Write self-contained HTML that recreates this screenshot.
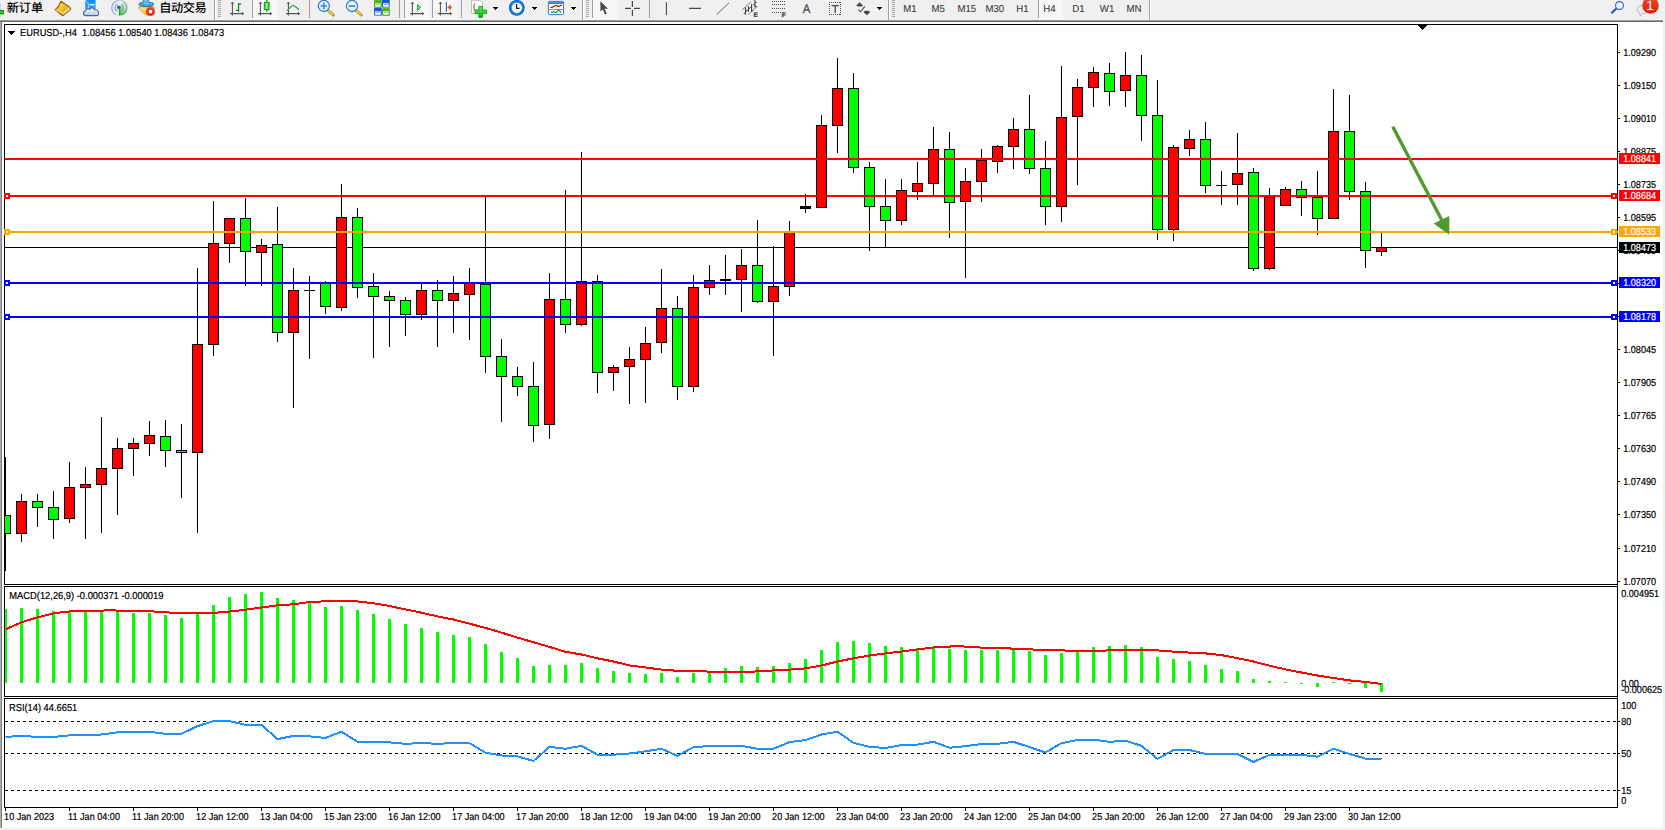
<!DOCTYPE html>
<html lang="zh-CN">
<head>
<meta charset="utf-8">
<title>EURUSD-,H4</title>
<style>
html,body{margin:0;padding:0;background:#fff;}
body{width:1665px;height:830px;position:relative;overflow:hidden;font-family:"Liberation Sans","Noto Sans CJK SC",sans-serif;}
#tb{position:absolute;left:0;top:0;width:1665px;height:22px;background:#f0f0f0;}
#tb .sep{position:absolute;left:0;top:20px;width:1663px;height:1px;background:#a0a0a0;}
#tb .sep2{position:absolute;left:0;top:21px;width:1663px;height:1px;background:#696969;}
</style>
</head>
<body>
<div id="tb"><div class="sep"></div><div class="sep2"></div>
<svg id="tbsvg" width="1665" height="22" viewBox="0 0 1665 22" style="position:absolute;left:0;top:0;text-rendering:geometricPrecision">
<defs>
<linearGradient id="gGold" x1="0" y1="0" x2="1" y2="1"><stop offset="0" stop-color="#fff0a0"/><stop offset="0.45" stop-color="#f2c520"/><stop offset="1" stop-color="#c88a14"/></linearGradient>
<linearGradient id="gCloud" x1="0" y1="0" x2="0" y2="1"><stop offset="0" stop-color="#ffffff"/><stop offset="1" stop-color="#b8c6e0"/></linearGradient>
<linearGradient id="gBlueBox" x1="0" y1="0" x2="0" y2="1"><stop offset="0" stop-color="#1486f0"/><stop offset="1" stop-color="#30a8ff"/></linearGradient>
<linearGradient id="gGreenC" x1="0" y1="0" x2="1" y2="0"><stop offset="0" stop-color="#18c018"/><stop offset="0.5" stop-color="#90ff90"/><stop offset="1" stop-color="#18c018"/></linearGradient>
<radialGradient id="gLens" cx="0.5" cy="0.4" r="0.6"><stop offset="0" stop-color="#ffffff"/><stop offset="1" stop-color="#bfe4f8"/></radialGradient>
<linearGradient id="gHandle" x1="0" y1="0" x2="1" y2="1"><stop offset="0" stop-color="#f8e060"/><stop offset="1" stop-color="#c89010"/></linearGradient>
<linearGradient id="gGrn" x1="0" y1="0" x2="0" y2="1"><stop offset="0" stop-color="#5ab82a"/><stop offset="1" stop-color="#2e9a10"/></linearGradient>
<linearGradient id="gBlu" x1="0" y1="0" x2="0" y2="1"><stop offset="0" stop-color="#1a4ad0"/><stop offset="1" stop-color="#3a7af0"/></linearGradient>
<radialGradient id="gClock" cx="0.5" cy="0.5" r="0.5"><stop offset="0.6" stop-color="#f4f4f4"/><stop offset="0.68" stop-color="#2a90e8"/><stop offset="1" stop-color="#0a58c0"/></radialGradient>
<linearGradient id="gRed" x1="0" y1="0" x2="0" y2="1"><stop offset="0" stop-color="#e8502a"/><stop offset="1" stop-color="#dc1c06"/></linearGradient>
<linearGradient id="gPlus" x1="0" y1="0" x2="0" y2="1"><stop offset="0" stop-color="#60f060"/><stop offset="1" stop-color="#08b008"/></linearGradient>
<linearGradient id="gHat" x1="0" y1="0" x2="0" y2="1"><stop offset="0" stop-color="#7cc8f0"/><stop offset="1" stop-color="#2a8cd0"/></linearGradient>
<linearGradient id="gRadar" x1="0" y1="1" x2="0.6" y2="0"><stop offset="0" stop-color="#30a830" stop-opacity="0.95"/><stop offset="0.6" stop-color="#88c888" stop-opacity="0.7"/><stop offset="1" stop-color="#d0e8d8" stop-opacity="0.5"/></linearGradient>
<linearGradient id="gYel" x1="0" y1="0" x2="1" y2="1"><stop offset="0" stop-color="#fff090"/><stop offset="1" stop-color="#f0b010"/></linearGradient>
<pattern id="chk" width="2" height="2" patternUnits="userSpaceOnUse"><rect width="2" height="2" fill="#f0f0f0"/><rect width="1" height="1" fill="#fff"/><rect x="1" y="1" width="1" height="1" fill="#fff"/></pattern>
<g id="axes" fill="none" stroke="#545454" stroke-width="1.1"><path d="M2.4 2.2V15.6M0 13.6H13.4"/><path d="M1 3.8L2.4 2.2L3.8 3.8M12 12.2L13.6 13.6L12 15" stroke-width="1"/></g>
<g id="grip" shape-rendering="crispEdges" fill="#a8a8a8"><rect x="0" y="0" width="3" height="1"/><rect x="0" y="2" width="3" height="1"/><rect x="0" y="4" width="3" height="1"/><rect x="0" y="6" width="3" height="1"/><rect x="0" y="8" width="3" height="1"/><rect x="0" y="10" width="3" height="1"/><rect x="0" y="12" width="3" height="1"/><rect x="0" y="14" width="3" height="1"/><rect x="0" y="16" width="3" height="1"/></g>
<g id="dd" shape-rendering="crispEdges" fill="#000"><rect x="0" y="0" width="5" height="1"/><rect x="1" y="1" width="3" height="1"/><rect x="2" y="2" width="1" height="1"/></g>
</defs>
<!-- row under toolbar -->
<g shape-rendering="crispEdges">
<rect x="0" y="19" width="1665" height="1" fill="#f2f2f2"/>
<rect x="0" y="20" width="1663" height="1" fill="#9c9c9c"/>
<rect x="0" y="21" width="1663" height="1" fill="#6a6a6a"/>
<!-- selected button backgrounds -->
<rect x="253" y="0" width="24" height="18" fill="url(#chk)"/><rect x="252" y="18" width="26" height="1" fill="#fff"/>
<rect x="405" y="0" width="24" height="18" fill="url(#chk)"/><rect x="404" y="18" width="26" height="1" fill="#fff"/>
<rect x="433" y="0" width="24" height="18" fill="url(#chk)"/><rect x="432" y="18" width="26" height="1" fill="#fff"/>
<rect x="593" y="0" width="24" height="18" fill="url(#chk)"/><rect x="592" y="18" width="26" height="1" fill="#fff"/>
<rect x="1039" y="0" width="24" height="18" fill="url(#chk)"/><rect x="1038" y="18" width="26" height="1" fill="#fff"/>
<!-- toolbar separators (full) -->
<rect x="214" y="0" width="1" height="20" fill="#a0a0a0"/><rect x="215" y="0" width="1" height="20" fill="#fff"/>
<rect x="582" y="0" width="1" height="20" fill="#a0a0a0"/><rect x="583" y="0" width="1" height="20" fill="#fff"/>
<rect x="888" y="0" width="1" height="20" fill="#a0a0a0"/><rect x="889" y="0" width="1" height="20" fill="#fff"/>
<rect x="1149" y="0" width="1" height="20" fill="#a0a0a0"/><rect x="1150" y="0" width="1" height="20" fill="#fff"/>
<!-- button separators -->
<rect x="252" y="0" width="1" height="18" fill="#a0a0a0"/>
<rect x="309" y="0" width="1" height="18" fill="#a0a0a0"/>
<rect x="399" y="0" width="1" height="18" fill="#a0a0a0"/>
<rect x="404" y="0" width="1" height="18" fill="#a0a0a0"/>
<rect x="432" y="0" width="1" height="18" fill="#a0a0a0"/>
<rect x="461" y="0" width="1" height="18" fill="#a0a0a0"/>
<rect x="592" y="0" width="1" height="18" fill="#a0a0a0"/>
<rect x="649" y="0" width="1" height="18" fill="#a0a0a0"/>
<rect x="1038" y="0" width="1" height="18" fill="#a0a0a0"/>
</g>
<use href="#grip" x="218" y="0"/><use href="#grip" x="586" y="0"/><use href="#grip" x="892" y="0"/>
<!-- new order partial plus -->
<rect x="0" y="3" width="1" height="14" fill="#c8c8c8" opacity="0.7"/>
<rect x="-1" y="10.3" width="4.6" height="3.6" fill="#20d020" stroke="#0a800a" stroke-width="0.8"/>
<g font-family="Liberation Sans, Noto Sans CJK SC, sans-serif" font-size="12.2px" font-weight="500" fill="#000">
<text x="6.7" y="11.7">新订单</text>
<text x="159.2" y="11.7" textLength="47.4" lengthAdjust="spacing">自动交易</text>
</g>
<!-- book -->
<path d="M60.8 1.3L69.8 7.2L70.8 9.4L62.8 15.8L55.2 9.8C57.6 8 59.6 5 60.8 1.3Z" fill="url(#gGold)" stroke="#9a5c08" stroke-width="1.1" stroke-linejoin="round"/>
<path d="M69.6 7.8L70.4 9.4L63 15.2L62.6 13.4Z" fill="#ecd9a0" stroke="#a87420" stroke-width="0.5"/>
<path d="M55.8 10L62.6 13.2L69.4 7.6" fill="none" stroke="#fff4c0" stroke-width="0.9" opacity="0.85"/>
<!-- box + cloud -->
<path d="M85.2 1.2L88 -1H95.6V9H85.2Z" fill="url(#gBlueBox)"/>
<path d="M85.4 1.4L88.6 3.6V9" fill="none" stroke="#d8f0ff" stroke-width="0.7"/>
<rect x="89.6" y="4" width="5" height="1.4" fill="#e0f4ff"/>
<path d="M86 15.6C83 15.6 82.6 11.4 85.6 10.8C85.8 8.8 88.2 8.2 89.4 9.4C90.6 7.2 94 7.4 94.6 10C96.6 9.2 98.8 10.8 98.4 12.8C99 15 97.6 15.6 96.4 15.6Z" fill="url(#gCloud)" stroke="#4664a4" stroke-width="1.1"/>
<!-- radar -->
<path d="M119.4 7.8V15.6A7.8 7.8 0 0 0 123.4 1.2Z" fill="url(#gRadar)"/>
<g fill="none" stroke-width="1.1">
<path d="M116.6 0.9A7.5 7.5 0 0 0 116.2 14.7" stroke="#6a8ae0" opacity="0.8"/>
<path d="M117.6 4.1A3.9 3.9 0 0 0 117.2 11.3" stroke="#5a80dc" opacity="0.9"/>
<path d="M116.6 0.9A7.5 7.5 0 0 1 123.6 1.6" stroke="#a8c0d8" opacity="0.8"/>
<path d="M123.6 1.6A7.5 7.5 0 0 1 122.6 14.6" stroke="#4a8a6a" opacity="0.7"/>
<path d="M121 4.2A3.9 3.9 0 0 1 121.6 11" stroke="#6aa08a" opacity="0.7"/>
</g>
<circle cx="118.8" cy="7.4" r="1.8" fill="#2a5ad0"/>
<rect x="118.9" y="8" width="1.3" height="7.7" fill="#18a818"/>
<!-- auto trading -->
<path d="M138.8 7L146 6.4L153.8 6.6L153.6 10L146.4 15.6L139.2 8.6Z" fill="url(#gYel)" stroke="#c8960c" stroke-width="0.8" stroke-linejoin="round"/>
<path d="M138.6 4.2C139.6 2.6 141.6 2.4 142.8 2.6C143 1.2 143.6 0 144 -0.6H148C148.6 0.4 149 1.4 149.2 2.6C150.8 2.2 153 2.4 153.8 3.8C153.2 5.8 149.6 6.8 146.2 6.8C142.8 6.8 139.4 6 138.6 4.2Z" fill="url(#gHat)" stroke="#1e78a8" stroke-width="0.9"/>
<path d="M143.6 3.4C145 4.4 147.6 4.4 149 3.4" fill="none" stroke="#c0e8fa" stroke-width="0.7" opacity="0.8"/>
<circle cx="150.5" cy="11.6" r="4.1" fill="url(#gRed)" stroke="#c01808" stroke-width="0.5"/>
<rect x="148.9" y="10" width="3.2" height="3.2" fill="#fff"/>
<!-- chart type icons -->
<use href="#axes" x="230" y="0"/>
<path d="M236 10.4H238.6V4.2H241.2M238.6 3V12" fill="none" stroke="#0a8a0a" stroke-width="1.2"/>
<use href="#axes" x="258" y="0"/>
<rect x="266.1" y="0" width="1.2" height="12" fill="#0a9a0a"/>
<rect x="264.3" y="2.4" width="4.8" height="7.2" fill="url(#gGreenC)" stroke="#0a9a0a" stroke-width="0.9"/>
<use href="#axes" x="286" y="0"/>
<path d="M287 10.6C290 8.4 291.4 5.2 293 5.2C294.6 5.2 296.4 8.2 299 9.4" fill="none" stroke="#2a9a2a" stroke-width="1.1"/>
<!-- zoom in / out -->
<g>
<path d="M327.6 10L333.2 15" stroke="#a87a10" stroke-width="3" stroke-linecap="round"/>
<path d="M327.8 10.2L333 14.8" stroke="#f0d040" stroke-width="1.6" stroke-linecap="round"/>
<circle cx="323.8" cy="6" r="5.6" fill="url(#gLens)" stroke="#2a78c8" stroke-width="1.1"/>
<path d="M320.6 6H327M323.8 2.8V9.2" stroke="#3a88b8" stroke-width="1.6"/>
<path d="M355.6 10L361.2 15" stroke="#a87a10" stroke-width="3" stroke-linecap="round"/>
<path d="M355.8 10.2L361 14.8" stroke="#f0d040" stroke-width="1.6" stroke-linecap="round"/>
<circle cx="352" cy="6" r="5.6" fill="url(#gLens)" stroke="#2a78c8" stroke-width="1.1"/>
<path d="M348.8 6H355.2" stroke="#3a88b8" stroke-width="1.6"/>
</g>
<!-- tile windows -->
<g>
<rect x="374" y="0" width="7.8" height="7.8" rx="0.8" fill="url(#gGrn)"/><rect x="382" y="0" width="7.8" height="7.8" rx="0.8" fill="url(#gBlu)"/>
<rect x="374" y="8" width="7.8" height="7.8" rx="0.8" fill="url(#gBlu)"/><rect x="382" y="8" width="7.8" height="7.8" rx="0.8" fill="url(#gGrn)"/>
<rect x="375.2" y="3.4" width="5.4" height="3.4" fill="#fff"/><rect x="383.2" y="3.4" width="5.4" height="3.4" fill="#fff"/>
<rect x="375.2" y="11.4" width="5.4" height="3.4" fill="#fff"/><rect x="383.2" y="11.4" width="5.4" height="3.4" fill="#fff"/>
<rect x="376" y="4.2" width="3.8" height="0.8" fill="#8ad060"/><rect x="384" y="4.2" width="3.8" height="0.8" fill="#7aa0f0"/>
<rect x="376" y="12.2" width="3.8" height="0.8" fill="#7aa0f0"/><rect x="384" y="12.2" width="3.8" height="0.8" fill="#8ad060"/>
</g>
<!-- auto scroll / chart shift -->
<use href="#axes" x="410" y="0"/>
<path d="M417.6 4.4L420.6 7.4L417.6 10.4Z" fill="#70e070" stroke="#18a018" stroke-width="0.9"/>
<use href="#axes" x="438" y="0"/>
<rect x="445.8" y="2" width="1.1" height="10" fill="#1a6aa8"/>
<path d="M447.6 7.4H452M447.8 7.4L450.4 5.2V9.6Z" fill="#e05010" stroke="#e05010" stroke-width="0.8"/>
<!-- indicators -->
<path d="M471.6 0.4H480L482.4 2.8V13.4H471.6Z" fill="#fff" stroke="#b0b0b0" stroke-width="0.8"/>
<path d="M474.8 3.4C473.6 4.4 473.6 9 474.8 10.4" fill="none" stroke="#404030" stroke-width="0.9"/>
<path d="M478.8 6.4H482.4V10H486.6V13.6H482.4V17.4H478.8V13.6H475V10H478.8Z" fill="url(#gPlus)" stroke="#0a900a" stroke-width="0.8"/>
<use href="#dd" x="493" y="7"/>
<!-- clock -->
<circle cx="516.8" cy="7.8" r="7.9" fill="url(#gClock)"/>
<path d="M516.6 4V8.4H519.6" fill="none" stroke="#202020" stroke-width="1.2"/>
<use href="#dd" x="532" y="7"/>
<!-- templates -->
<rect x="548.4" y="1.4" width="15.2" height="13.2" rx="0.8" fill="#fff" stroke="#3a78c8" stroke-width="1"/>
<rect x="548.9" y="1.8" width="14.2" height="2.2" fill="#4a88d8"/>
<rect x="549" y="9" width="14" height="0.9" fill="#5a90d8"/>
<path d="M550.4 7.4H552.4L554 6H555.4L556.4 5.2L557.6 6.4H559.2L560.6 5.4H562" fill="none" stroke="#a01808" stroke-width="1.1"/>
<path d="M551 12.4H552.6L553.6 11.4L555 12.4H556.4L558.4 10.2L559.4 10.6L561.2 12.6" fill="none" stroke="#10902a" stroke-width="1.1"/>
<use href="#dd" x="571" y="7"/>
<!-- cursor -->
<path d="M600.4 1.2V11.4L602.8 9.4L605 14.6L606.8 13.8L604.6 8.8H608Z" fill="#484848"/>
<!-- crosshair -->
<path d="M625 8.4H631M634 8.4H640M632.4 1V7M632.4 10V16" fill="none" stroke="#484848" stroke-width="1.2"/>
<!-- vline hline trend -->
<path d="M666.4 2.2V15M689 8.4H701" fill="none" stroke="#484848" stroke-width="1.1"/><path d="M716.6 14.6L729 2.8" fill="none" stroke="#585858" stroke-width="0.9"/>
<!-- channel -->
<g fill="none" stroke="#686868" stroke-width="0.8">
<path d="M742.4 9.6L751 1.8M747.8 14.8L757.4 6.2"/>
</g>
<g fill="none" stroke="#3c3c3c" stroke-width="1.1">
<path d="M745.5 7.4V14.6M748.4 6.2V11.8M751.6 4.2V11.8M754.9 0V7.2"/>
<path d="M743.8 13.4H745.5M745.5 11.2H747M746.8 10.4H748.4M748.4 8.2H750M750 7.4H751.6M751.6 10.8H753.2M753.2 4.6H754.9M754.9 2.4H756.6M754.9 6.6H756.8" stroke-width="0.9"/>
</g>
<g font-family="Liberation Sans, sans-serif" font-weight="bold" fill="#404040">
<text x="753.6" y="17" font-size="6.6px" stroke="#404040" stroke-width="0.2">E</text>
<text x="781.8" y="17" font-size="6.6px" stroke="#404040" stroke-width="0.3">F</text>
<text transform="translate(802.8 13) scale(0.92 1)" font-size="12.4px" fill="#505050" font-weight="normal" stroke="#505050" stroke-width="0.35">A</text>
</g>
<g fill="none" stroke="#505050" stroke-width="1" stroke-dasharray="1 1" shape-rendering="crispEdges">
<path d="M772 1.5H786M772 4.5H786M772 8.5H786M772 12.5H781"/>
<path d="M829 2.5H841M829 14.5H841M829.5 2V15M840.5 2V15"/>
</g>
<path d="M831.6 5.6H838.8M835.2 5.6V13" fill="none" stroke="#484848" stroke-width="1.3"/>
<!-- arrows -->
<path d="M856.2 5.6L859.6 2.2L863 5.6L861.2 6.6H858Z" fill="#484848"/>
<path d="M863.4 12L866.8 15.2L870.2 12L868.4 10.8H865.2Z" fill="#484848"/>
<path d="M858.2 9.6L860.6 11.8L864.8 6.4" fill="none" stroke="#484848" stroke-width="1.1"/>
<use href="#dd" x="877" y="7"/>
<!-- periods -->
<g font-family="Liberation Sans, sans-serif" font-size="10.1px" fill="#3c3c3c" stroke="#3c3c3c" stroke-width="0.1">
<text transform="translate(903.2 12) scale(0.955 1)">M1</text><text transform="translate(931.4 12) scale(0.955 1)">M5</text><text transform="translate(957.4 12) scale(0.955 1)">M15</text><text transform="translate(985.4 12) scale(0.955 1)">M30</text><text transform="translate(1016.2 12) scale(0.955 1)">H1</text><text transform="translate(1043.2 12) scale(0.955 1)">H4</text><text transform="translate(1072.2 12) scale(0.955 1)">D1</text><text transform="translate(1099.8 12) scale(0.955 1)">W1</text><text transform="translate(1126.4 12) scale(0.955 1)">MN</text>
</g>
<!-- search -->
<path d="M1612 12.6L1616.6 8.2" stroke="#2a58c8" stroke-width="2.2" stroke-linecap="round"/>
<circle cx="1619.5" cy="5.5" r="3.9" fill="#f4f6ff" stroke="#2a58d0" stroke-width="1.1"/>
<!-- chat + badge -->
<path d="M1637 9.4C1637 6.4 1640 5.2 1643 5.2C1646.4 5.2 1648.6 7 1648.6 9.6C1648.6 12.4 1646 13.6 1643 13.6L1640 16.4L1640.2 13.4C1638.2 12.8 1637 11.4 1637 9.4Z" fill="#e8e8ee" stroke="#b0b0b0" stroke-width="0.8"/>
<circle cx="1650.5" cy="5.4" r="8.3" fill="url(#gRed)"/>
<text x="1646.2" y="10" font-family="Liberation Sans, sans-serif" font-size="13.5px" fill="#fff">1</text>
</svg>

</div>
<svg id="chart" width="1665" height="830" viewBox="0 0 1665 830" style="position:absolute;left:0;top:0;text-rendering:geometricPrecision">
<defs><clipPath id="cm"><rect x="4" y="25" width="1614" height="559"/></clipPath><clipPath id="cm5"><rect x="5" y="25" width="1612" height="559"/></clipPath><clipPath id="c2"><rect x="5" y="587" width="1612" height="109"/></clipPath><clipPath id="c3"><rect x="5" y="699" width="1612" height="108"/></clipPath></defs>
<g shape-rendering="crispEdges">
<rect x="0" y="22" width="1" height="808" fill="#ababab"/>
<rect x="1" y="22" width="1" height="808" fill="#808080"/>
<rect x="1663" y="22" width="2" height="808" fill="#f0f0f0"/>
<rect x="0" y="828" width="1665" height="2" fill="#f0f0f0"/>
<rect x="4" y="24" width="1614" height="1" fill="#000"/>
<rect x="4" y="24" width="1" height="561" fill="#000"/>
<rect x="4" y="584" width="1614" height="1" fill="#000"/>
<rect x="1617" y="24" width="1" height="784" fill="#000"/>
<rect x="4" y="586" width="1614" height="1" fill="#000"/>
<rect x="4" y="586" width="1" height="111" fill="#000"/>
<rect x="4" y="696" width="1614" height="1" fill="#000"/>
<rect x="4" y="698" width="1614" height="1" fill="#000"/>
<rect x="4" y="698" width="1" height="110" fill="#000"/>
<rect x="4" y="807" width="1614" height="1" fill="#000"/>
<rect x="1418" y="25" width="9" height="1" fill="#000"/>
<rect x="1419" y="26" width="7" height="1" fill="#000"/>
<rect x="1420" y="27" width="5" height="1" fill="#000"/>
<rect x="1421" y="28" width="3" height="1" fill="#000"/>
<rect x="1422" y="29" width="1" height="1" fill="#000"/>
<rect x="8" y="31" width="7" height="1" fill="#000"/>
<rect x="9" y="32" width="5" height="1" fill="#000"/>
<rect x="10" y="33" width="3" height="1" fill="#000"/>
<rect x="11" y="34" width="1" height="1" fill="#000"/>
<g clip-path="url(#cm5)">
<rect x="5" y="247" width="1613" height="1" fill="#000"/>
<rect x="5" y="457" width="1" height="114" fill="#000"/>
<rect x="0" y="515" width="11" height="19" fill="#000"/>
<rect x="1" y="516" width="9" height="17" fill="#0f0"/>
<rect x="21" y="494" width="1" height="48" fill="#000"/>
<rect x="16" y="501" width="11" height="33" fill="#000"/>
<rect x="17" y="502" width="9" height="31" fill="#f00"/>
<rect x="37" y="494" width="1" height="33" fill="#000"/>
<rect x="32" y="501" width="11" height="7" fill="#000"/>
<rect x="33" y="502" width="9" height="5" fill="#0f0"/>
<rect x="53" y="491" width="1" height="48" fill="#000"/>
<rect x="48" y="507" width="11" height="13" fill="#000"/>
<rect x="49" y="508" width="9" height="11" fill="#0f0"/>
<rect x="69" y="462" width="1" height="61" fill="#000"/>
<rect x="64" y="487" width="11" height="32" fill="#000"/>
<rect x="65" y="488" width="9" height="30" fill="#f00"/>
<rect x="85" y="467" width="1" height="72" fill="#000"/>
<rect x="80" y="484" width="11" height="4" fill="#000"/>
<rect x="81" y="485" width="9" height="2" fill="#f00"/>
<rect x="101" y="417" width="1" height="116" fill="#000"/>
<rect x="96" y="468" width="11" height="17" fill="#000"/>
<rect x="97" y="469" width="9" height="15" fill="#f00"/>
<rect x="117" y="438" width="1" height="77" fill="#000"/>
<rect x="112" y="448" width="11" height="21" fill="#000"/>
<rect x="113" y="449" width="9" height="19" fill="#f00"/>
<rect x="133" y="438" width="1" height="38" fill="#000"/>
<rect x="128" y="443" width="11" height="6" fill="#000"/>
<rect x="129" y="444" width="9" height="4" fill="#f00"/>
<rect x="149" y="421" width="1" height="35" fill="#000"/>
<rect x="144" y="435" width="11" height="9" fill="#000"/>
<rect x="145" y="436" width="9" height="7" fill="#f00"/>
<rect x="165" y="420" width="1" height="47" fill="#000"/>
<rect x="160" y="436" width="11" height="15" fill="#000"/>
<rect x="161" y="437" width="9" height="13" fill="#0f0"/>
<rect x="181" y="424" width="1" height="74" fill="#000"/>
<rect x="176" y="450" width="11" height="3" fill="#000"/>
<rect x="177" y="451" width="9" height="1" fill="#0f0"/>
<rect x="197" y="268" width="1" height="265" fill="#000"/>
<rect x="192" y="344" width="11" height="109" fill="#000"/>
<rect x="193" y="345" width="9" height="107" fill="#f00"/>
<rect x="213" y="201" width="1" height="155" fill="#000"/>
<rect x="208" y="243" width="11" height="102" fill="#000"/>
<rect x="209" y="244" width="9" height="100" fill="#f00"/>
<rect x="229" y="218" width="1" height="45" fill="#000"/>
<rect x="224" y="218" width="11" height="26" fill="#000"/>
<rect x="225" y="219" width="9" height="24" fill="#f00"/>
<rect x="245" y="198" width="1" height="88" fill="#000"/>
<rect x="240" y="218" width="11" height="34" fill="#000"/>
<rect x="241" y="219" width="9" height="32" fill="#0f0"/>
<rect x="261" y="239" width="1" height="47" fill="#000"/>
<rect x="256" y="245" width="11" height="8" fill="#000"/>
<rect x="257" y="246" width="9" height="6" fill="#f00"/>
<rect x="277" y="207" width="1" height="135" fill="#000"/>
<rect x="272" y="244" width="11" height="89" fill="#000"/>
<rect x="273" y="245" width="9" height="87" fill="#0f0"/>
<rect x="293" y="268" width="1" height="140" fill="#000"/>
<rect x="288" y="290" width="11" height="43" fill="#000"/>
<rect x="289" y="291" width="9" height="41" fill="#f00"/>
<rect x="309" y="276" width="1" height="83" fill="#000"/>
<rect x="304" y="290" width="11" height="1" fill="#000"/>
<rect x="325" y="281" width="1" height="33" fill="#000"/>
<rect x="320" y="283" width="11" height="24" fill="#000"/>
<rect x="321" y="284" width="9" height="22" fill="#0f0"/>
<rect x="341" y="184" width="1" height="127" fill="#000"/>
<rect x="336" y="217" width="11" height="91" fill="#000"/>
<rect x="337" y="218" width="9" height="89" fill="#f00"/>
<rect x="357" y="208" width="1" height="90" fill="#000"/>
<rect x="352" y="217" width="11" height="71" fill="#000"/>
<rect x="353" y="218" width="9" height="69" fill="#0f0"/>
<rect x="373" y="273" width="1" height="85" fill="#000"/>
<rect x="368" y="286" width="11" height="11" fill="#000"/>
<rect x="369" y="287" width="9" height="9" fill="#0f0"/>
<rect x="389" y="291" width="1" height="56" fill="#000"/>
<rect x="384" y="296" width="11" height="5" fill="#000"/>
<rect x="385" y="297" width="9" height="3" fill="#0f0"/>
<rect x="405" y="297" width="1" height="39" fill="#000"/>
<rect x="400" y="300" width="11" height="15" fill="#000"/>
<rect x="401" y="301" width="9" height="13" fill="#0f0"/>
<rect x="421" y="284" width="1" height="36" fill="#000"/>
<rect x="416" y="290" width="11" height="25" fill="#000"/>
<rect x="417" y="291" width="9" height="23" fill="#f00"/>
<rect x="437" y="280" width="1" height="67" fill="#000"/>
<rect x="432" y="290" width="11" height="11" fill="#000"/>
<rect x="433" y="291" width="9" height="9" fill="#0f0"/>
<rect x="453" y="276" width="1" height="57" fill="#000"/>
<rect x="448" y="293" width="11" height="8" fill="#000"/>
<rect x="449" y="294" width="9" height="6" fill="#f00"/>
<rect x="469" y="268" width="1" height="72" fill="#000"/>
<rect x="464" y="283" width="11" height="12" fill="#000"/>
<rect x="465" y="284" width="9" height="10" fill="#f00"/>
<rect x="485" y="196" width="1" height="177" fill="#000"/>
<rect x="480" y="284" width="11" height="73" fill="#000"/>
<rect x="481" y="285" width="9" height="71" fill="#0f0"/>
<rect x="501" y="339" width="1" height="83" fill="#000"/>
<rect x="496" y="356" width="11" height="21" fill="#000"/>
<rect x="497" y="357" width="9" height="19" fill="#0f0"/>
<rect x="517" y="367" width="1" height="29" fill="#000"/>
<rect x="512" y="376" width="11" height="11" fill="#000"/>
<rect x="513" y="377" width="9" height="9" fill="#0f0"/>
<rect x="533" y="362" width="1" height="80" fill="#000"/>
<rect x="528" y="386" width="11" height="40" fill="#000"/>
<rect x="529" y="387" width="9" height="38" fill="#0f0"/>
<rect x="549" y="273" width="1" height="166" fill="#000"/>
<rect x="544" y="299" width="11" height="126" fill="#000"/>
<rect x="545" y="300" width="9" height="124" fill="#f00"/>
<rect x="565" y="190" width="1" height="143" fill="#000"/>
<rect x="560" y="299" width="11" height="26" fill="#000"/>
<rect x="561" y="300" width="9" height="24" fill="#0f0"/>
<rect x="581" y="152" width="1" height="174" fill="#000"/>
<rect x="576" y="281" width="11" height="44" fill="#000"/>
<rect x="577" y="282" width="9" height="42" fill="#f00"/>
<rect x="597" y="275" width="1" height="118" fill="#000"/>
<rect x="592" y="281" width="11" height="92" fill="#000"/>
<rect x="593" y="282" width="9" height="90" fill="#0f0"/>
<rect x="613" y="365" width="1" height="26" fill="#000"/>
<rect x="608" y="367" width="11" height="6" fill="#000"/>
<rect x="609" y="368" width="9" height="4" fill="#f00"/>
<rect x="629" y="347" width="1" height="57" fill="#000"/>
<rect x="624" y="359" width="11" height="8" fill="#000"/>
<rect x="625" y="360" width="9" height="6" fill="#f00"/>
<rect x="645" y="327" width="1" height="76" fill="#000"/>
<rect x="640" y="343" width="11" height="17" fill="#000"/>
<rect x="641" y="344" width="9" height="15" fill="#f00"/>
<rect x="661" y="269" width="1" height="84" fill="#000"/>
<rect x="656" y="308" width="11" height="35" fill="#000"/>
<rect x="657" y="309" width="9" height="33" fill="#f00"/>
<rect x="677" y="296" width="1" height="104" fill="#000"/>
<rect x="672" y="308" width="11" height="79" fill="#000"/>
<rect x="673" y="309" width="9" height="77" fill="#0f0"/>
<rect x="693" y="275" width="1" height="117" fill="#000"/>
<rect x="688" y="287" width="11" height="100" fill="#000"/>
<rect x="689" y="288" width="9" height="98" fill="#f00"/>
<rect x="709" y="265" width="1" height="30" fill="#000"/>
<rect x="704" y="280" width="11" height="8" fill="#000"/>
<rect x="705" y="281" width="9" height="6" fill="#f00"/>
<rect x="725" y="255" width="1" height="40" fill="#000"/>
<rect x="720" y="279" width="11" height="2" fill="#000"/>
<rect x="741" y="249" width="1" height="63" fill="#000"/>
<rect x="736" y="265" width="11" height="15" fill="#000"/>
<rect x="737" y="266" width="9" height="13" fill="#f00"/>
<rect x="757" y="220" width="1" height="83" fill="#000"/>
<rect x="752" y="265" width="11" height="37" fill="#000"/>
<rect x="753" y="266" width="9" height="35" fill="#0f0"/>
<rect x="773" y="246" width="1" height="110" fill="#000"/>
<rect x="768" y="286" width="11" height="16" fill="#000"/>
<rect x="769" y="287" width="9" height="14" fill="#f00"/>
<rect x="789" y="221" width="1" height="75" fill="#000"/>
<rect x="784" y="232" width="11" height="55" fill="#000"/>
<rect x="785" y="233" width="9" height="53" fill="#f00"/>
<rect x="805" y="194" width="1" height="19" fill="#000"/>
<rect x="800" y="206" width="11" height="3" fill="#000"/>
<rect x="821" y="115" width="1" height="93" fill="#000"/>
<rect x="816" y="125" width="11" height="83" fill="#000"/>
<rect x="817" y="126" width="9" height="81" fill="#f00"/>
<rect x="837" y="58" width="1" height="95" fill="#000"/>
<rect x="832" y="88" width="11" height="38" fill="#000"/>
<rect x="833" y="89" width="9" height="36" fill="#f00"/>
<rect x="853" y="73" width="1" height="100" fill="#000"/>
<rect x="848" y="88" width="11" height="80" fill="#000"/>
<rect x="849" y="89" width="9" height="78" fill="#0f0"/>
<rect x="869" y="162" width="1" height="89" fill="#000"/>
<rect x="864" y="167" width="11" height="40" fill="#000"/>
<rect x="865" y="168" width="9" height="38" fill="#0f0"/>
<rect x="885" y="179" width="1" height="68" fill="#000"/>
<rect x="880" y="206" width="11" height="15" fill="#000"/>
<rect x="881" y="207" width="9" height="13" fill="#0f0"/>
<rect x="901" y="179" width="1" height="46" fill="#000"/>
<rect x="896" y="190" width="11" height="31" fill="#000"/>
<rect x="897" y="191" width="9" height="29" fill="#f00"/>
<rect x="917" y="162" width="1" height="38" fill="#000"/>
<rect x="912" y="183" width="11" height="9" fill="#000"/>
<rect x="913" y="184" width="9" height="7" fill="#f00"/>
<rect x="933" y="127" width="1" height="68" fill="#000"/>
<rect x="928" y="149" width="11" height="35" fill="#000"/>
<rect x="929" y="150" width="9" height="33" fill="#f00"/>
<rect x="949" y="132" width="1" height="106" fill="#000"/>
<rect x="944" y="149" width="11" height="54" fill="#000"/>
<rect x="945" y="150" width="9" height="52" fill="#0f0"/>
<rect x="965" y="168" width="1" height="110" fill="#000"/>
<rect x="960" y="181" width="11" height="21" fill="#000"/>
<rect x="961" y="182" width="9" height="19" fill="#f00"/>
<rect x="981" y="149" width="1" height="53" fill="#000"/>
<rect x="976" y="160" width="11" height="22" fill="#000"/>
<rect x="977" y="161" width="9" height="20" fill="#f00"/>
<rect x="997" y="145" width="1" height="28" fill="#000"/>
<rect x="992" y="146" width="11" height="16" fill="#000"/>
<rect x="993" y="147" width="9" height="14" fill="#f00"/>
<rect x="1013" y="118" width="1" height="51" fill="#000"/>
<rect x="1008" y="129" width="11" height="18" fill="#000"/>
<rect x="1009" y="130" width="9" height="16" fill="#f00"/>
<rect x="1029" y="95" width="1" height="79" fill="#000"/>
<rect x="1024" y="129" width="11" height="40" fill="#000"/>
<rect x="1025" y="130" width="9" height="38" fill="#0f0"/>
<rect x="1045" y="141" width="1" height="84" fill="#000"/>
<rect x="1040" y="168" width="11" height="39" fill="#000"/>
<rect x="1041" y="169" width="9" height="37" fill="#0f0"/>
<rect x="1061" y="66" width="1" height="156" fill="#000"/>
<rect x="1056" y="117" width="11" height="90" fill="#000"/>
<rect x="1057" y="118" width="9" height="88" fill="#f00"/>
<rect x="1077" y="79" width="1" height="106" fill="#000"/>
<rect x="1072" y="87" width="11" height="30" fill="#000"/>
<rect x="1073" y="88" width="9" height="28" fill="#f00"/>
<rect x="1093" y="67" width="1" height="40" fill="#000"/>
<rect x="1088" y="72" width="11" height="16" fill="#000"/>
<rect x="1089" y="73" width="9" height="14" fill="#f00"/>
<rect x="1109" y="63" width="1" height="43" fill="#000"/>
<rect x="1104" y="73" width="11" height="19" fill="#000"/>
<rect x="1105" y="74" width="9" height="17" fill="#0f0"/>
<rect x="1125" y="52" width="1" height="55" fill="#000"/>
<rect x="1120" y="75" width="11" height="16" fill="#000"/>
<rect x="1121" y="76" width="9" height="14" fill="#f00"/>
<rect x="1141" y="55" width="1" height="86" fill="#000"/>
<rect x="1136" y="75" width="11" height="41" fill="#000"/>
<rect x="1137" y="76" width="9" height="39" fill="#0f0"/>
<rect x="1157" y="80" width="1" height="160" fill="#000"/>
<rect x="1152" y="115" width="11" height="115" fill="#000"/>
<rect x="1153" y="116" width="9" height="113" fill="#0f0"/>
<rect x="1173" y="145" width="1" height="96" fill="#000"/>
<rect x="1168" y="147" width="11" height="83" fill="#000"/>
<rect x="1169" y="148" width="9" height="81" fill="#f00"/>
<rect x="1189" y="130" width="1" height="26" fill="#000"/>
<rect x="1184" y="139" width="11" height="10" fill="#000"/>
<rect x="1185" y="140" width="9" height="8" fill="#f00"/>
<rect x="1205" y="122" width="1" height="71" fill="#000"/>
<rect x="1200" y="139" width="11" height="47" fill="#000"/>
<rect x="1201" y="140" width="9" height="45" fill="#0f0"/>
<rect x="1221" y="171" width="1" height="34" fill="#000"/>
<rect x="1216" y="185" width="11" height="1" fill="#000"/>
<rect x="1237" y="133" width="1" height="72" fill="#000"/>
<rect x="1232" y="173" width="11" height="12" fill="#000"/>
<rect x="1233" y="174" width="9" height="10" fill="#f00"/>
<rect x="1253" y="168" width="1" height="103" fill="#000"/>
<rect x="1248" y="172" width="11" height="97" fill="#000"/>
<rect x="1249" y="173" width="9" height="95" fill="#0f0"/>
<rect x="1269" y="188" width="1" height="82" fill="#000"/>
<rect x="1264" y="197" width="11" height="72" fill="#000"/>
<rect x="1265" y="198" width="9" height="70" fill="#f00"/>
<rect x="1285" y="187" width="1" height="19" fill="#000"/>
<rect x="1280" y="189" width="11" height="17" fill="#000"/>
<rect x="1281" y="190" width="9" height="15" fill="#f00"/>
<rect x="1301" y="181" width="1" height="35" fill="#000"/>
<rect x="1296" y="189" width="11" height="9" fill="#000"/>
<rect x="1297" y="190" width="9" height="7" fill="#0f0"/>
<rect x="1317" y="171" width="1" height="64" fill="#000"/>
<rect x="1312" y="197" width="11" height="22" fill="#000"/>
<rect x="1313" y="198" width="9" height="20" fill="#0f0"/>
<rect x="1333" y="89" width="1" height="130" fill="#000"/>
<rect x="1328" y="131" width="11" height="88" fill="#000"/>
<rect x="1329" y="132" width="9" height="86" fill="#f00"/>
<rect x="1349" y="95" width="1" height="105" fill="#000"/>
<rect x="1344" y="131" width="11" height="61" fill="#000"/>
<rect x="1345" y="132" width="9" height="59" fill="#0f0"/>
<rect x="1365" y="182" width="1" height="86" fill="#000"/>
<rect x="1360" y="191" width="11" height="60" fill="#000"/>
<rect x="1361" y="192" width="9" height="58" fill="#0f0"/>
<rect x="1381" y="233" width="1" height="23" fill="#000"/>
<rect x="1376" y="247" width="11" height="5" fill="#000"/>
<rect x="1377" y="248" width="9" height="3" fill="#f00"/>
</g>
<g clip-path="url(#cm)">
<rect x="5" y="158" width="1613" height="2" fill="#f00"/>
<rect x="5" y="195" width="1613" height="2" fill="#f00"/>
<rect x="5" y="231" width="1613" height="2" fill="#ffa500"/>
<rect x="5" y="282" width="1613" height="2" fill="#00f"/>
<rect x="5" y="316" width="1613" height="2" fill="#00f"/>
<rect x="4" y="193" width="6" height="6" fill="#f00"/><rect x="6" y="195" width="2" height="2" fill="#fff"/>
<rect x="1611" y="193" width="6" height="6" fill="#f00"/><rect x="1613" y="195" width="2" height="2" fill="#fff"/>
<rect x="4" y="229" width="6" height="6" fill="#ffa500"/><rect x="6" y="231" width="2" height="2" fill="#fff"/>
<rect x="1611" y="229" width="6" height="6" fill="#ffa500"/><rect x="1613" y="231" width="2" height="2" fill="#fff"/>
<rect x="4" y="280" width="6" height="6" fill="#00f"/><rect x="6" y="282" width="2" height="2" fill="#fff"/>
<rect x="1611" y="280" width="6" height="6" fill="#00f"/><rect x="1613" y="282" width="2" height="2" fill="#fff"/>
<rect x="4" y="314" width="6" height="6" fill="#00f"/><rect x="6" y="316" width="2" height="2" fill="#fff"/>
<rect x="1611" y="314" width="6" height="6" fill="#00f"/><rect x="1613" y="316" width="2" height="2" fill="#fff"/>
</g>
<g shape-rendering="auto"><line x1="1392.8" y1="126.7" x2="1442" y2="220.5" stroke="#4f9a2d" stroke-width="3.4"/><path d="M1449.3 234.8L1433.6 223.5L1449.3 216Z" fill="#4f9a2d"/></g>
<g clip-path="url(#c2)">
<rect x="4" y="609" width="3" height="74" fill="#0f0"/>
<rect x="20" y="608" width="3" height="75" fill="#0f0"/>
<rect x="36" y="609" width="3" height="74" fill="#0f0"/>
<rect x="52" y="611" width="3" height="72" fill="#0f0"/>
<rect x="68" y="612" width="3" height="71" fill="#0f0"/>
<rect x="84" y="612" width="3" height="71" fill="#0f0"/>
<rect x="100" y="612" width="3" height="71" fill="#0f0"/>
<rect x="116" y="612" width="3" height="71" fill="#0f0"/>
<rect x="132" y="613" width="3" height="70" fill="#0f0"/>
<rect x="148" y="613" width="3" height="70" fill="#0f0"/>
<rect x="164" y="615" width="3" height="68" fill="#0f0"/>
<rect x="180" y="618" width="3" height="65" fill="#0f0"/>
<rect x="196" y="614" width="3" height="69" fill="#0f0"/>
<rect x="212" y="605" width="3" height="78" fill="#0f0"/>
<rect x="228" y="597" width="3" height="86" fill="#0f0"/>
<rect x="244" y="594" width="3" height="89" fill="#0f0"/>
<rect x="260" y="592" width="3" height="91" fill="#0f0"/>
<rect x="276" y="598" width="3" height="85" fill="#0f0"/>
<rect x="292" y="600" width="3" height="83" fill="#0f0"/>
<rect x="308" y="603" width="3" height="80" fill="#0f0"/>
<rect x="324" y="607" width="3" height="76" fill="#0f0"/>
<rect x="340" y="606" width="3" height="77" fill="#0f0"/>
<rect x="356" y="610" width="3" height="73" fill="#0f0"/>
<rect x="372" y="614" width="3" height="69" fill="#0f0"/>
<rect x="388" y="619" width="3" height="64" fill="#0f0"/>
<rect x="404" y="624" width="3" height="59" fill="#0f0"/>
<rect x="420" y="628" width="3" height="55" fill="#0f0"/>
<rect x="436" y="632" width="3" height="51" fill="#0f0"/>
<rect x="452" y="635" width="3" height="48" fill="#0f0"/>
<rect x="468" y="637" width="3" height="46" fill="#0f0"/>
<rect x="484" y="644" width="3" height="39" fill="#0f0"/>
<rect x="500" y="652" width="3" height="31" fill="#0f0"/>
<rect x="516" y="658" width="3" height="25" fill="#0f0"/>
<rect x="532" y="666" width="3" height="17" fill="#0f0"/>
<rect x="548" y="665" width="3" height="18" fill="#0f0"/>
<rect x="564" y="665" width="3" height="18" fill="#0f0"/>
<rect x="580" y="663" width="3" height="20" fill="#0f0"/>
<rect x="596" y="668" width="3" height="15" fill="#0f0"/>
<rect x="612" y="671" width="3" height="12" fill="#0f0"/>
<rect x="628" y="673" width="3" height="10" fill="#0f0"/>
<rect x="644" y="674" width="3" height="9" fill="#0f0"/>
<rect x="660" y="673" width="3" height="10" fill="#0f0"/>
<rect x="676" y="677" width="3" height="6" fill="#0f0"/>
<rect x="692" y="673" width="3" height="10" fill="#0f0"/>
<rect x="708" y="672" width="3" height="11" fill="#0f0"/>
<rect x="724" y="668" width="3" height="15" fill="#0f0"/>
<rect x="740" y="666" width="3" height="17" fill="#0f0"/>
<rect x="756" y="667" width="3" height="16" fill="#0f0"/>
<rect x="772" y="666" width="3" height="17" fill="#0f0"/>
<rect x="788" y="663" width="3" height="20" fill="#0f0"/>
<rect x="804" y="659" width="3" height="24" fill="#0f0"/>
<rect x="820" y="650" width="3" height="33" fill="#0f0"/>
<rect x="836" y="642" width="3" height="41" fill="#0f0"/>
<rect x="852" y="641" width="3" height="42" fill="#0f0"/>
<rect x="868" y="643" width="3" height="40" fill="#0f0"/>
<rect x="884" y="646" width="3" height="37" fill="#0f0"/>
<rect x="900" y="647" width="3" height="36" fill="#0f0"/>
<rect x="916" y="648" width="3" height="35" fill="#0f0"/>
<rect x="932" y="647" width="3" height="36" fill="#0f0"/>
<rect x="948" y="649" width="3" height="34" fill="#0f0"/>
<rect x="964" y="650" width="3" height="33" fill="#0f0"/>
<rect x="980" y="650" width="3" height="33" fill="#0f0"/>
<rect x="996" y="650" width="3" height="33" fill="#0f0"/>
<rect x="1012" y="649" width="3" height="34" fill="#0f0"/>
<rect x="1028" y="651" width="3" height="32" fill="#0f0"/>
<rect x="1044" y="655" width="3" height="28" fill="#0f0"/>
<rect x="1060" y="653" width="3" height="30" fill="#0f0"/>
<rect x="1076" y="652" width="3" height="31" fill="#0f0"/>
<rect x="1092" y="647" width="3" height="36" fill="#0f0"/>
<rect x="1108" y="646" width="3" height="37" fill="#0f0"/>
<rect x="1124" y="645" width="3" height="38" fill="#0f0"/>
<rect x="1140" y="647" width="3" height="36" fill="#0f0"/>
<rect x="1156" y="657" width="3" height="26" fill="#0f0"/>
<rect x="1172" y="659" width="3" height="24" fill="#0f0"/>
<rect x="1188" y="661" width="3" height="22" fill="#0f0"/>
<rect x="1204" y="665" width="3" height="18" fill="#0f0"/>
<rect x="1220" y="669" width="3" height="14" fill="#0f0"/>
<rect x="1236" y="671" width="3" height="12" fill="#0f0"/>
<rect x="1252" y="679" width="3" height="4" fill="#0f0"/>
<rect x="1268" y="681" width="3" height="2" fill="#0f0"/>
<rect x="1284" y="682" width="3" height="1" fill="#0f0"/>
<rect x="1300" y="683" width="3" height="1" fill="#0f0"/>
<rect x="1316" y="683" width="3" height="4" fill="#0f0"/>
<rect x="1332" y="682" width="3" height="1" fill="#0f0"/>
<rect x="1348" y="683" width="3" height="1" fill="#0f0"/>
<rect x="1364" y="683" width="3" height="5" fill="#0f0"/>
<rect x="1380" y="683" width="3" height="9" fill="#0f0"/>
<polyline points="6.0,629.1 21.5,622.3 37.5,617.3 53.5,613.3 69.5,611.4 85.5,611.1 101.5,610.7 109.5,610.1 117.5,610.6 133.5,611.1 149.5,611.2 165.5,612.4 181.5,612.9 197.5,612.9 213.5,612.9 229.5,611.6 245.5,609.7 261.5,607.5 277.5,605.3 293.5,604.3 309.5,602.0 325.5,601.3 341.5,601.1 357.5,601.5 373.5,603.2 389.5,606.0 405.5,609.4 421.5,612.7 437.5,616.4 453.5,619.5 469.5,623.7 485.5,627.9 501.5,632.6 517.5,637.6 533.5,642.2 549.5,646.9 565.5,651.8 581.5,654.5 597.5,658.3 613.5,661.5 629.5,665.4 645.5,667.4 661.5,669.6 677.5,670.8 693.5,670.9 709.5,671.6 725.5,672.0 741.5,672.0 757.5,671.4 773.5,670.4 789.5,669.6 805.5,668.4 821.5,665.5 837.5,661.5 853.5,658.3 869.5,655.5 885.5,653.4 901.5,651.6 917.5,649.4 933.5,647.4 949.5,646.6 957.5,645.9 965.5,646.7 981.5,647.6 997.5,648.1 1013.5,648.6 1029.5,649.4 1045.5,649.9 1061.5,650.4 1077.5,650.9 1093.5,650.9 1109.5,650.4 1125.5,649.9 1141.5,649.9 1157.5,650.4 1173.5,651.6 1189.5,652.6 1205.5,653.4 1221.5,655.1 1237.5,658.2 1253.5,661.5 1269.5,665.7 1285.5,669.4 1301.5,672.5 1317.5,675.5 1333.5,678.0 1349.5,680.4 1365.5,682.0 1381.5,683.9" fill="none" stroke="#f00" stroke-width="2" stroke-linejoin="round"/>
</g>
<g clip-path="url(#c3)">
<line x1="5" y1="721.5" x2="1617" y2="721.5" stroke="#000" stroke-width="1" stroke-dasharray="3 3"/>
<line x1="5" y1="753.5" x2="1617" y2="753.5" stroke="#000" stroke-width="1" stroke-dasharray="3 3"/>
<line x1="5" y1="790.5" x2="1617" y2="790.5" stroke="#000" stroke-width="1" stroke-dasharray="3 3"/>
<polyline points="5.5,736.9 21.5,735.9 37.5,736.9 53.5,736.9 69.5,735.4 85.5,734.9 101.5,734.5 117.5,732.3 133.5,731.8 149.5,731.8 165.5,733.8 181.5,733.8 197.5,726.1 213.5,721.1 229.5,721.1 245.5,724.9 261.5,724.9 277.5,739.1 293.5,735.9 309.5,736.4 325.5,737.9 341.5,731.7 357.5,741.8 373.5,741.8 389.5,742.4 405.5,743.8 421.5,743.1 437.5,743.8 453.5,743.1 469.5,743.1 485.5,752.7 501.5,755.5 517.5,756.4 533.5,760.9 549.5,746.8 565.5,748.8 581.5,745.8 597.5,754.7 613.5,754.7 629.5,753.5 645.5,751.3 661.5,748.8 677.5,755.9 693.5,747.1 709.5,746.1 725.5,745.8 741.5,745.8 757.5,748.8 773.5,748.8 789.5,742.1 805.5,740.1 821.5,734.5 837.5,731.7 853.5,742.8 869.5,746.8 885.5,748.0 901.5,745.1 917.5,744.6 933.5,741.8 949.5,747.8 965.5,746.1 981.5,744.1 997.5,743.8 1013.5,741.8 1029.5,747.1 1045.5,752.5 1061.5,743.1 1077.5,740.1 1093.5,739.7 1109.5,741.8 1125.5,740.7 1141.5,745.8 1157.5,758.9 1173.5,750.0 1189.5,750.0 1205.5,753.9 1221.5,753.9 1237.5,753.9 1253.5,761.9 1269.5,754.9 1285.5,754.9 1301.5,754.9 1317.5,756.7 1333.5,748.8 1349.5,753.9 1365.5,758.6 1381.5,758.9" fill="none" stroke="#1e90ff" stroke-width="2" stroke-linejoin="round"/>
</g>
<rect x="1618" y="52" width="2" height="1" fill="#000"/>
<rect x="1618" y="85" width="2" height="1" fill="#000"/>
<rect x="1618" y="118" width="2" height="1" fill="#000"/>
<rect x="1618" y="151" width="2" height="1" fill="#000"/>
<rect x="1618" y="184" width="2" height="1" fill="#000"/>
<rect x="1618" y="217" width="2" height="1" fill="#000"/>
<rect x="1618" y="250" width="2" height="1" fill="#000"/>
<rect x="1618" y="283" width="2" height="1" fill="#000"/>
<rect x="1618" y="316" width="2" height="1" fill="#000"/>
<rect x="1618" y="349" width="2" height="1" fill="#000"/>
<rect x="1618" y="382" width="2" height="1" fill="#000"/>
<rect x="1618" y="415" width="2" height="1" fill="#000"/>
<rect x="1618" y="448" width="2" height="1" fill="#000"/>
<rect x="1618" y="481" width="2" height="1" fill="#000"/>
<rect x="1618" y="514" width="2" height="1" fill="#000"/>
<rect x="1618" y="548" width="2" height="1" fill="#000"/>
<rect x="1618" y="581" width="2" height="1" fill="#000"/>
<rect x="1618" y="721" width="2" height="1" fill="#000"/>
<rect x="1618" y="753" width="2" height="1" fill="#000"/>
<rect x="1618" y="790" width="2" height="1" fill="#000"/>
<rect x="5" y="808" width="1" height="3" fill="#000"/>
<rect x="69" y="808" width="1" height="3" fill="#000"/>
<rect x="133" y="808" width="1" height="3" fill="#000"/>
<rect x="197" y="808" width="1" height="3" fill="#000"/>
<rect x="261" y="808" width="1" height="3" fill="#000"/>
<rect x="325" y="808" width="1" height="3" fill="#000"/>
<rect x="389" y="808" width="1" height="3" fill="#000"/>
<rect x="453" y="808" width="1" height="3" fill="#000"/>
<rect x="517" y="808" width="1" height="3" fill="#000"/>
<rect x="581" y="808" width="1" height="3" fill="#000"/>
<rect x="645" y="808" width="1" height="3" fill="#000"/>
<rect x="709" y="808" width="1" height="3" fill="#000"/>
<rect x="773" y="808" width="1" height="3" fill="#000"/>
<rect x="837" y="808" width="1" height="3" fill="#000"/>
<rect x="901" y="808" width="1" height="3" fill="#000"/>
<rect x="965" y="808" width="1" height="3" fill="#000"/>
<rect x="1029" y="808" width="1" height="3" fill="#000"/>
<rect x="1093" y="808" width="1" height="3" fill="#000"/>
<rect x="1157" y="808" width="1" height="3" fill="#000"/>
<rect x="1221" y="808" width="1" height="3" fill="#000"/>
<rect x="1285" y="808" width="1" height="3" fill="#000"/>
<rect x="1349" y="808" width="1" height="3" fill="#000"/>
</g>
<g font-family="Liberation Sans, sans-serif" font-size="10.1px" fill="#000" stroke="#000" stroke-width="0.2">
<text transform="translate(20 36) scale(0.921 1)" xml:space="preserve">EURUSD-,H4  1.08456 1.08540 1.08436 1.08473</text>
<text transform="translate(9.3 599) scale(0.925 1)" xml:space="preserve">MACD(12,26,9) -0.000371 -0.000019</text>
<text transform="translate(9 711) scale(0.921 1)" xml:space="preserve">RSI(14) 44.6651</text>
<text transform="translate(1623.2 56) scale(0.9 1)" xml:space="preserve">1.09290</text>
<text transform="translate(1623.2 89) scale(0.9 1)" xml:space="preserve">1.09150</text>
<text transform="translate(1623.2 122) scale(0.9 1)" xml:space="preserve">1.09010</text>
<text transform="translate(1623.2 155) scale(0.9 1)" xml:space="preserve">1.08875</text>
<text transform="translate(1623.2 188) scale(0.9 1)" xml:space="preserve">1.08735</text>
<text transform="translate(1623.2 221) scale(0.9 1)" xml:space="preserve">1.08595</text>
<text transform="translate(1623.2 254) scale(0.9 1)" xml:space="preserve">1.08460</text>
<text transform="translate(1623.2 287) scale(0.9 1)" xml:space="preserve">1.08320</text>
<text transform="translate(1623.2 320) scale(0.9 1)" xml:space="preserve">1.08180</text>
<text transform="translate(1623.2 353) scale(0.9 1)" xml:space="preserve">1.08045</text>
<text transform="translate(1623.2 386) scale(0.9 1)" xml:space="preserve">1.07905</text>
<text transform="translate(1623.2 419) scale(0.9 1)" xml:space="preserve">1.07765</text>
<text transform="translate(1623.2 452) scale(0.9 1)" xml:space="preserve">1.07630</text>
<text transform="translate(1623.2 485) scale(0.9 1)" xml:space="preserve">1.07490</text>
<text transform="translate(1623.2 518) scale(0.9 1)" xml:space="preserve">1.07350</text>
<text transform="translate(1623.2 552) scale(0.9 1)" xml:space="preserve">1.07210</text>
<text transform="translate(1623.2 585) scale(0.9 1)" xml:space="preserve">1.07070</text>
<text transform="translate(1621.2 597.2) scale(0.9 1)" xml:space="preserve">0.004951</text>
<text transform="translate(1621.2 687.3) scale(0.9 1)" xml:space="preserve">0.00</text>
<text transform="translate(1621.2 693.3) scale(0.9 1)" xml:space="preserve">-0.000625</text>
<text transform="translate(1621.2 709) scale(0.9 1)" xml:space="preserve">100</text>
<text transform="translate(1621.2 725) scale(0.9 1)" xml:space="preserve">80</text>
<text transform="translate(1621.2 757.3) scale(0.9 1)" xml:space="preserve">50</text>
<text transform="translate(1621.2 794) scale(0.9 1)" xml:space="preserve">15</text>
<text transform="translate(1621.2 804) scale(0.9 1)" xml:space="preserve">0</text>
<text transform="translate(4.1 820) scale(0.9 1)" xml:space="preserve">10 Jan 2023</text>
<text transform="translate(68.1 820) scale(0.9 1)" xml:space="preserve">11 Jan 04:00</text>
<text transform="translate(132.1 820) scale(0.9 1)" xml:space="preserve">11 Jan 20:00</text>
<text transform="translate(196.1 820) scale(0.9 1)" xml:space="preserve">12 Jan 12:00</text>
<text transform="translate(260.1 820) scale(0.9 1)" xml:space="preserve">13 Jan 04:00</text>
<text transform="translate(324.1 820) scale(0.9 1)" xml:space="preserve">15 Jan 23:00</text>
<text transform="translate(388.1 820) scale(0.9 1)" xml:space="preserve">16 Jan 12:00</text>
<text transform="translate(452.1 820) scale(0.9 1)" xml:space="preserve">17 Jan 04:00</text>
<text transform="translate(516.1 820) scale(0.9 1)" xml:space="preserve">17 Jan 20:00</text>
<text transform="translate(580.1 820) scale(0.9 1)" xml:space="preserve">18 Jan 12:00</text>
<text transform="translate(644.1 820) scale(0.9 1)" xml:space="preserve">19 Jan 04:00</text>
<text transform="translate(708.1 820) scale(0.9 1)" xml:space="preserve">19 Jan 20:00</text>
<text transform="translate(772.1 820) scale(0.9 1)" xml:space="preserve">20 Jan 12:00</text>
<text transform="translate(836.1 820) scale(0.9 1)" xml:space="preserve">23 Jan 04:00</text>
<text transform="translate(900.1 820) scale(0.9 1)" xml:space="preserve">23 Jan 20:00</text>
<text transform="translate(964.1 820) scale(0.9 1)" xml:space="preserve">24 Jan 12:00</text>
<text transform="translate(1028.1 820) scale(0.9 1)" xml:space="preserve">25 Jan 04:00</text>
<text transform="translate(1092.1 820) scale(0.9 1)" xml:space="preserve">25 Jan 20:00</text>
<text transform="translate(1156.1 820) scale(0.9 1)" xml:space="preserve">26 Jan 12:00</text>
<text transform="translate(1220.1 820) scale(0.9 1)" xml:space="preserve">27 Jan 04:00</text>
<text transform="translate(1284.1 820) scale(0.9 1)" xml:space="preserve">29 Jan 23:00</text>
<text transform="translate(1348.1 820) scale(0.9 1)" xml:space="preserve">30 Jan 12:00</text>
</g>
<g shape-rendering="crispEdges">
<rect x="1619" y="153" width="41" height="11" fill="#f00"/>
<rect x="1619" y="190" width="41" height="11" fill="#f00"/>
<rect x="1619" y="226" width="41" height="11" fill="#ffa500"/>
<rect x="1619" y="242" width="41" height="11" fill="#000"/>
<rect x="1619" y="277" width="41" height="11" fill="#00f"/>
<rect x="1619" y="311" width="41" height="11" fill="#00f"/>
</g>
<g font-family="Liberation Sans, sans-serif" font-size="10.1px" fill="#fff" stroke="#fff" stroke-width="0.2">
<text transform="translate(1623.2 162) scale(0.9 1)" xml:space="preserve">1.08841</text>
<text transform="translate(1623.2 199) scale(0.9 1)" xml:space="preserve">1.08684</text>
<text transform="translate(1623.2 235) scale(0.9 1)" xml:space="preserve">1.08533</text>
<text transform="translate(1623.2 251) scale(0.9 1)" xml:space="preserve">1.08473</text>
<text transform="translate(1623.2 286) scale(0.9 1)" xml:space="preserve">1.08320</text>
<text transform="translate(1623.2 320) scale(0.9 1)" xml:space="preserve">1.08178</text>
</g>
</svg>
</body>
</html>
